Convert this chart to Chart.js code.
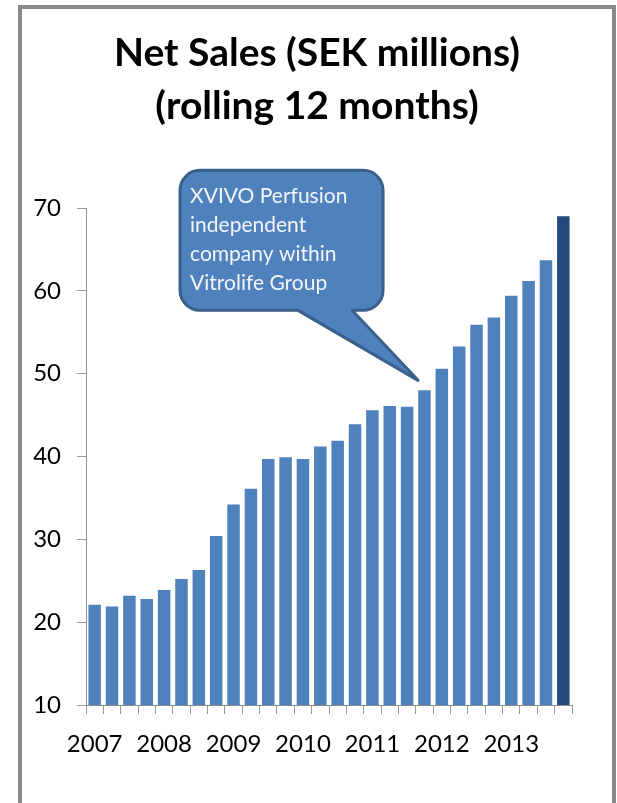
<!DOCTYPE html>
<html>
<head>
<meta charset="utf-8">
<script src="https://cdn.jsdelivr.net/npm/chart.js@4.4.1/dist/chart.umd.min.js"></script>
<style>
  html, body { margin: 0; padding: 0; background: #fff; }
  #frame {
    position: absolute; left: 18px; top: 5px;
    width: 590px; height: 798px;
    border: 4px solid #8a8a8a; border-bottom: none;
  }
  #salesChart { display: block; }
</style>
</head>
<body>
<div id="frame">
  <canvas id="salesChart" width="590" height="794"></canvas>
</div>
<script>
// quarterly net sales, rolling 12 months (SEK millions)
const quarters = [
  '2007 Q1', '2007 Q2', '2007 Q3', '2007 Q4',
  '2008 Q1', '2008 Q2', '2008 Q3', '2008 Q4',
  '2009 Q1', '2009 Q2', '2009 Q3', '2009 Q4',
  '2010 Q1', '2010 Q2', '2010 Q3', '2010 Q4',
  '2011 Q1', '2011 Q2', '2011 Q3', '2011 Q4',
  '2012 Q1', '2012 Q2', '2012 Q3', '2012 Q4',
  '2013 Q1', '2013 Q2', '2013 Q3', '2013 Q4'
];
const netSales = [
  22.1, 21.9, 23.2, 22.8,
  23.9, 25.2, 26.3, 30.4,
  34.2, 36.1, 39.7, 39.9,
  39.7, 41.2, 41.9, 43.9,
  45.6, 46.1, 46.0, 48.0,
  50.6, 53.3, 55.9, 56.8,
  59.4, 61.2, 63.7, 69.0
];
const yMin = 10;
const yMax = 70;
const yStep = 10;

const titleLines = ['Net Sales (SEK millions)', '(rolling 12 months)'];
const calloutLines = ['XVIVO Perfusion', 'independent', 'company within', 'Vitrolife Group'];
// where the callout tail points (category index, value)
const calloutAnchor = { index: 18.63, value: 49.2 };

const barColor = '#4f81bd';
const lastBarColor = '#244a7b';
const barColors = netSales.map((v, i) => (i === netSales.length - 1 ? lastBarColor : barColor));

const calloutPlugin = {
  id: 'callout',
  afterDraw(chart) {
    const ctx = chart.ctx;
    const x = chart.scales.x;
    const y = chart.scales.y;
    const tx = x.getPixelForValue(calloutAnchor.index);
    const ty = y.getPixelForValue(calloutAnchor.value);
    const L = tx - 238, R = tx - 35, T = ty - 210, B = ty - 70, r = 20;

    ctx.save();
    ctx.beginPath();
    ctx.moveTo(L + r, T);
    ctx.lineTo(R - r, T);
    ctx.arcTo(R, T, R, T + r, r);
    ctx.lineTo(R, B - r);
    ctx.arcTo(R, B, R - r, B, r);
    ctx.lineTo(tx - 66, B);
    ctx.lineTo(tx, ty);
    ctx.lineTo(tx - 120, B);
    ctx.lineTo(L + r, B);
    ctx.arcTo(L, B, L, B - r, r);
    ctx.lineTo(L, T + r);
    ctx.arcTo(L, T, L + r, T, r);
    ctx.closePath();
    ctx.fillStyle = '#4f81bd';
    ctx.fill();
    ctx.lineWidth = 3;
    ctx.lineJoin = 'round';
    ctx.strokeStyle = '#3a5f8b';
    ctx.stroke();

    ctx.fillStyle = '#f3f6fb';
    ctx.font = '21px Lato';
    ctx.textAlign = 'left';
    ctx.textBaseline = 'alphabetic';
    calloutLines.forEach((line, i) => {
      ctx.fillText(line, L + 10, T + 33 + i * 29);
    });
    ctx.restore();
  }
};

new Chart(document.getElementById('salesChart'), {
  type: 'bar',
  data: {
    labels: quarters,
    datasets: [{
      label: 'Net Sales',
      data: netSales,
      backgroundColor: barColors,
      borderWidth: 0,
      barPercentage: 0.72,
      categoryPercentage: 1
    }]
  },
  options: {
    responsive: false,
    animation: false,
    devicePixelRatio: 1,
    layout: { padding: 0 },
    plugins: {
      legend: { display: false },
      tooltip: { enabled: false },
      title: {
        display: true,
        text: titleLines,
        color: '#000',
        font: { family: 'Lato', size: 39, weight: 'bold', lineHeight: 1.36 },
        padding: { top: 18, bottom: 75 }
      }
    },
    scales: {
      x: {
        grid: {
          drawOnChartArea: false,
          drawTicks: true,
          tickLength: 9,
          color: '#9a9a9a'
        },
        border: { display: true, color: '#8c8c8c', width: 1 },
        ticks: {
          autoSkip: false,
          maxRotation: 0,
          padding: 16,
          color: '#000',
          font: { family: 'Lato', size: 24 },
          callback: function (value, index) {
            const q = quarters[index];
            return q.endsWith('Q1') ? q.slice(0, 4) : '';
          }
        },
        afterFit(scale) { scale.height = 98; }
      },
      y: {
        min: yMin,
        max: yMax,
        grid: {
          drawOnChartArea: false,
          drawTicks: true,
          tickLength: 9,
          color: '#9a9a9a'
        },
        border: { display: true, color: '#8c8c8c', width: 1 },
        ticks: {
          stepSize: yStep,
          padding: 16,
          color: '#000',
          font: { family: 'Lato', size: 24 }
        },
        afterFit(scale) { scale.width = 64; }
      },
      // empty right axis, only keeps the plot clear of the right frame
      yRight: {
        position: 'right',
        grid: { display: false },
        border: { display: false },
        ticks: { display: false },
        afterFit(scale) { scale.width = 40; }
      }
    }
  },
  plugins: [calloutPlugin]
});
</script>
</body>
</html>
